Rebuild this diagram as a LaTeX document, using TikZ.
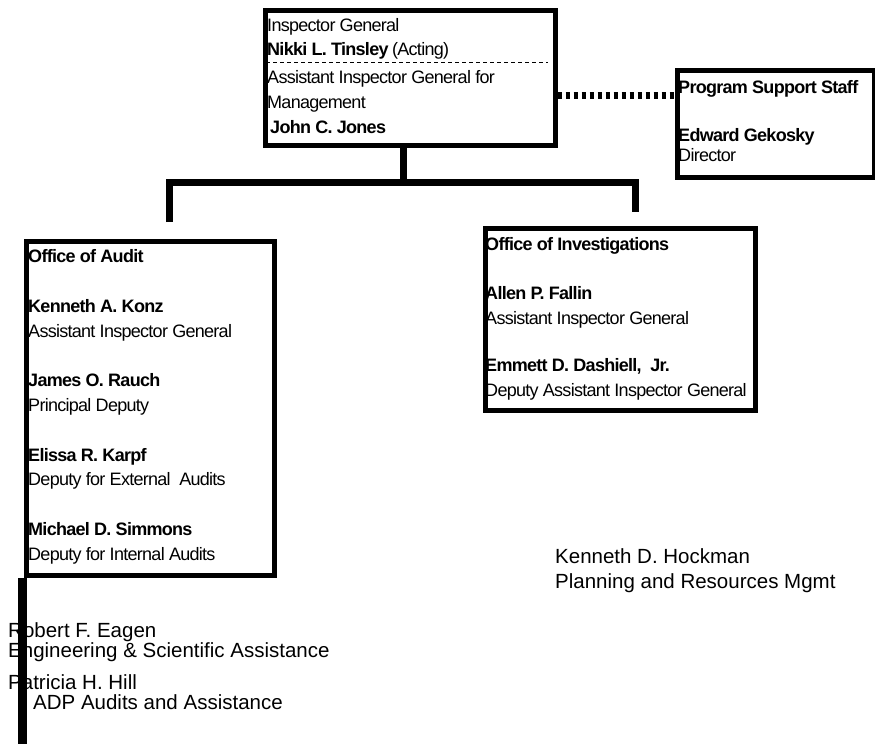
\documentclass[tikz,border=0pt]{standalone}
\usepackage{fontspec}
\setmainfont{Liberation Sans}
\newfontfamily\tightfont[LetterSpace=-4]{Liberation Sans}
\begin{document}
\begin{tikzpicture}[x=1pt,y=-1pt,
  box/.style={draw, line width=5pt, inner sep=0pt, anchor=north west},
  ln/.style={anchor=base west, inner sep=0pt, font=\tightfont\fontsize{18}{20}\selectfont},
  lnb/.style={anchor=base west, inner sep=0pt, font=\tightfont\bfseries\fontsize{18}{20}\selectfont},
  big/.style={anchor=base west, inner sep=0pt, font=\fontsize{20.5}{24}\selectfont},
  bus/.style={line width=7pt, line join=miter},
  dotline/.style={line width=7pt, dash pattern=on 4.5pt off 3.5pt},
  sepline/.style={line width=1pt, dash pattern=on 4pt off 3pt},
  bar/.style={line width=9pt}
]
\useasboundingbox (0,0) rectangle (875,744);

% boxes
\node[box, minimum width=290pt, minimum height=135pt] (top) at (262.5,7.5) {};
\node[box, minimum width=197pt, minimum height=107pt] (pss) at (674.5,67.5) {};
\node[box, minimum width=248pt, minimum height=334pt] (aud) at (23.5,238.5) {};
\node[box, minimum width=270pt, minimum height=182pt] (inv) at (482.5,225.5) {};

% top box text
\node[ln] (t1) at (267,31) {Inspector General};
\node[ln] (t2) at (267,55) {\textbf{Nikki L. Tinsley} (Acting)};
\draw[sepline] (266,62) -- (548,62);
\node[ln] (t3) at (267,83) {Assistant Inspector General for};
\node[ln] (t4) at (267,108) {Management};
\node[lnb] (t5) at (270,133) {John C. Jones};

% program support staff
\node[lnb] (p1) at (678,93) {Program Support Staff};
\node[lnb] (p2) at (678,141) {Edward Gekosky};
\node[ln] (p3) at (678,161) {Director};

% office of audit
\node[lnb] (a1) at (28,262) {Office of Audit};
\node[lnb] (a2) at (28,312) {Kenneth A. Konz};
\node[ln]  (a3) at (28,337) {Assistant Inspector General};
\node[lnb] (a4) at (28,386) {James O. Rauch};
\node[ln]  (a5) at (28,411) {Principal Deputy};
\node[lnb] (a6) at (28,461) {Elissa R. Karpf};
\node[ln]  (a7) at (28,485) {Deputy for External~ Audits};
\node[lnb] (a8) at (28,535) {Michael D. Simmons};
\node[ln]  (a9) at (28,560) {Deputy for Internal Audits};

% office of investigations
\node[lnb] (i1) at (485,250) {Office of Investigations};
\node[lnb] (i2) at (485,299) {Allen P. Fallin};
\node[ln]  (i3) at (485,324) {Assistant Inspector General};
\node[lnb] (i4) at (485,371) {Emmett D. Dashiell,~ Jr.};
\node[ln]  (i5) at (485,396) {Deputy Assistant Inspector General};

% free text
\node[big] (h1) at (555,563) {Kenneth D. Hockman};
\node[big] (h2) at (555,588) {Planning and Resources Mgmt};
\node[big] (r1) at (8,637) {Robert F. Eagen};
\node[big] (r2) at (8,657) {Engineering \& Scientific Assistance};
\node[big] (r3) at (8,689) {Patricia H. Hill};
\node[big] (r4) at (33,709) {ADP Audits and Assistance};

% connectors
\coordinate (topJ) at (403,182);
\coordinate (dropA) at (169,222);
\coordinate (dropB) at (635,212);
\coordinate (dotY) at (0,95);
\draw[bus] (top.south -| topJ) -- (topJ);
\draw[bus] (dropA) -- (dropA |- topJ) -- (dropB |- topJ) -- (dropB);
\draw[dotline] (top.east |- dotY) -- (pss.west |- dotY);

% bar at lower left
\coordinate (barEnd) at (22.5,744);
\draw[bar] (aud.south west -| barEnd) -- (barEnd);
\end{tikzpicture}
\end{document}
